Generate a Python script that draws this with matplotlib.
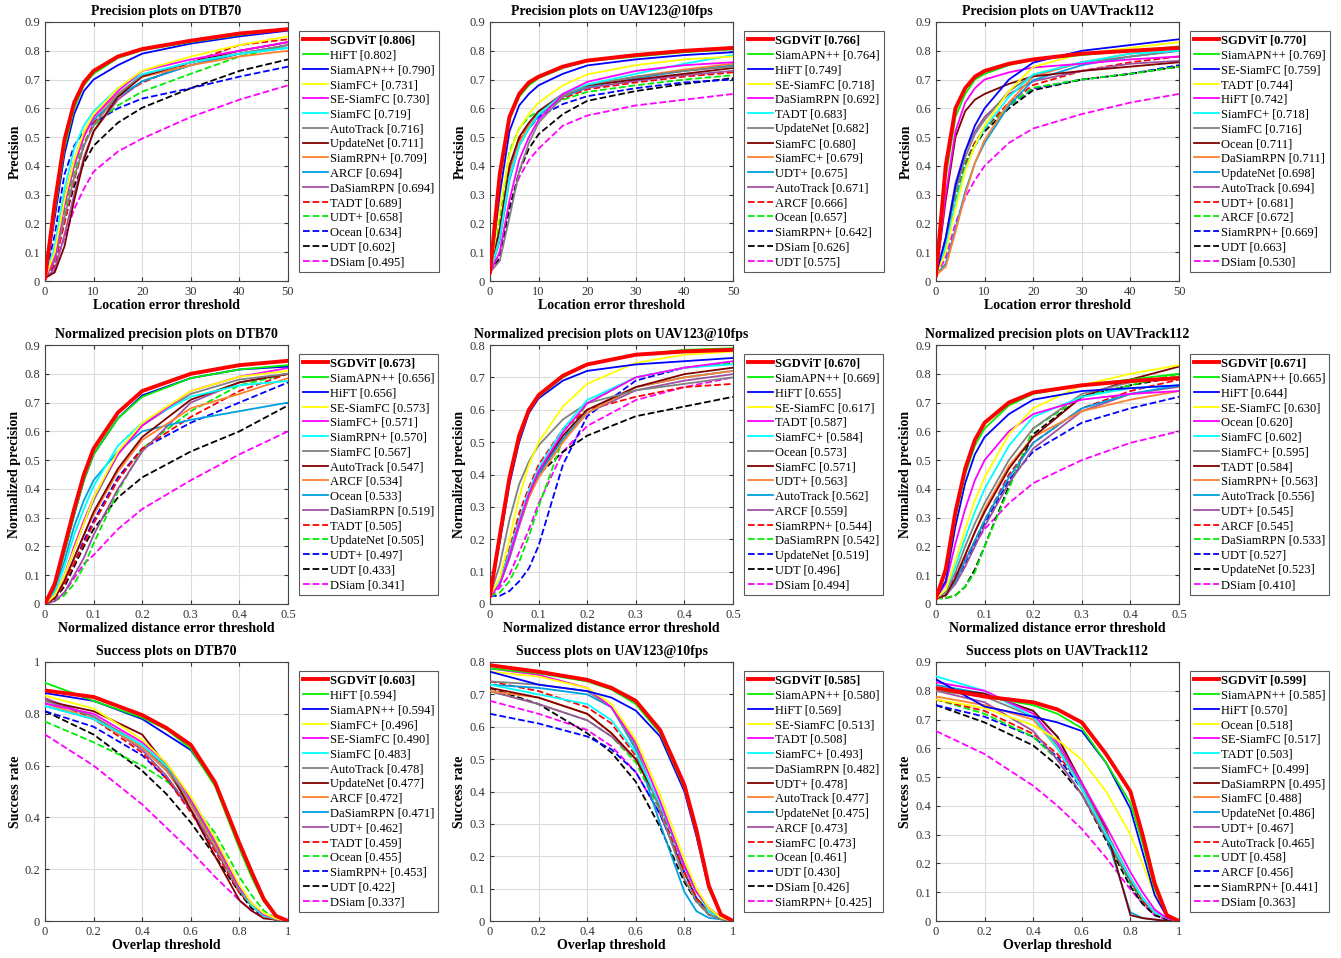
import numpy as np
import matplotlib
matplotlib.use("Agg")
import matplotlib.pyplot as plt
from matplotlib.ticker import FuncFormatter

plt.rcParams['font.family'] = ['Liberation Serif', 'DejaVu Serif']
plt.rcParams['font.size'] = 9

# line styles by rank in each legend (same for all panels)
colors = ['#ff0000', '#00ee00', '#0000ff', '#ffff00', '#ff00ff', '#00ffff', '#808080',
          '#800000', '#ff8030', '#00a0e0', '#a050a0', '#ff0000', '#00ee00', '#0000ff',
          '#000000', '#ff00ff']
styles = ['-'] * 11 + ['--'] * 5

# sample thresholds
prec_x = [0, 2, 4, 6, 8, 10, 15, 20, 30, 40, 50]
norm_x = [0, 0.02, 0.04, 0.06, 0.08, 0.1, 0.15, 0.2, 0.3, 0.4, 0.5]
succ_x = [0, 0.2, 0.4, 0.5, 0.6, 0.7, 0.8, 0.85, 0.9, 0.95, 1.0]

# ---------------- Precision DTB70
p_dtb_names = ['SGDViT', 'HiFT', 'SiamAPN++', 'SiamFC+', 'SE-SiamFC', 'SiamFC', 'AutoTrack',
               'UpdateNet', 'SiamRPN+', 'ARCF', 'DaSiamRPN', 'TADT', 'UDT+', 'Ocean', 'UDT', 'DSiam']
p_dtb_scores = [0.806, 0.802, 0.790, 0.731, 0.730, 0.719, 0.716, 0.711, 0.709, 0.694, 0.694,
                0.689, 0.658, 0.634, 0.602, 0.495]
p_dtb_curves = [
    [0.01, 0.27, 0.49, 0.62, 0.69, 0.73, 0.78, 0.806, 0.835, 0.86, 0.875],
    [0.01, 0.24, 0.46, 0.60, 0.68, 0.72, 0.775, 0.802, 0.83, 0.855, 0.875],
    [0.01, 0.22, 0.44, 0.58, 0.66, 0.70, 0.75, 0.79, 0.825, 0.85, 0.87],
    [0.01, 0.10, 0.28, 0.42, 0.52, 0.58, 0.67, 0.731, 0.78, 0.82, 0.85],
    [0.01, 0.08, 0.26, 0.40, 0.50, 0.57, 0.66, 0.730, 0.77, 0.80, 0.83],
    [0.01, 0.12, 0.32, 0.46, 0.54, 0.59, 0.67, 0.719, 0.76, 0.79, 0.81],
    [0.01, 0.07, 0.22, 0.36, 0.47, 0.54, 0.65, 0.716, 0.76, 0.79, 0.82],
    [0.01, 0.03, 0.12, 0.28, 0.42, 0.52, 0.64, 0.711, 0.76, 0.80, 0.83],
    [0.01, 0.10, 0.29, 0.42, 0.51, 0.57, 0.65, 0.709, 0.75, 0.78, 0.80],
    [0.01, 0.09, 0.28, 0.42, 0.51, 0.56, 0.64, 0.694, 0.75, 0.79, 0.81],
    [0.01, 0.04, 0.16, 0.30, 0.43, 0.52, 0.63, 0.694, 0.75, 0.79, 0.82],
    [0.01, 0.06, 0.20, 0.35, 0.47, 0.55, 0.64, 0.689, 0.76, 0.82, 0.84],
    [0.01, 0.08, 0.24, 0.38, 0.48, 0.54, 0.61, 0.658, 0.72, 0.78, 0.82],
    [0.01, 0.16, 0.37, 0.47, 0.52, 0.55, 0.60, 0.634, 0.67, 0.71, 0.745],
    [0.01, 0.06, 0.21, 0.33, 0.41, 0.47, 0.55, 0.602, 0.67, 0.73, 0.77],
    [0.01, 0.05, 0.15, 0.25, 0.32, 0.38, 0.45, 0.495, 0.57, 0.63, 0.68],
]

# ---------------- Precision UAV123@10fps
p_uav123_names = ['SGDViT', 'SiamAPN++', 'HiFT', 'SE-SiamFC', 'DaSiamRPN', 'TADT', 'UpdateNet',
                  'SiamFC', 'SiamFC+', 'UDT+', 'AutoTrack', 'ARCF', 'Ocean', 'SiamRPN+', 'DSiam', 'UDT']
p_uav123_scores = [0.766, 0.764, 0.749, 0.718, 0.692, 0.683, 0.682, 0.680, 0.679, 0.675, 0.671,
                   0.666, 0.657, 0.642, 0.626, 0.575]
p_uav123_curves = [
    [0.03, 0.37, 0.57, 0.65, 0.69, 0.71, 0.745, 0.766, 0.785, 0.80, 0.81],
    [0.03, 0.35, 0.56, 0.64, 0.68, 0.705, 0.74, 0.764, 0.78, 0.795, 0.805],
    [0.03, 0.30, 0.52, 0.61, 0.65, 0.68, 0.72, 0.749, 0.77, 0.785, 0.795],
    [0.03, 0.25, 0.44, 0.53, 0.58, 0.62, 0.68, 0.718, 0.75, 0.77, 0.78],
    [0.03, 0.10, 0.28, 0.42, 0.50, 0.56, 0.65, 0.692, 0.73, 0.75, 0.76],
    [0.03, 0.15, 0.36, 0.47, 0.53, 0.58, 0.65, 0.683, 0.72, 0.755, 0.785],
    [0.03, 0.07, 0.22, 0.38, 0.48, 0.55, 0.64, 0.682, 0.71, 0.73, 0.745],
    [0.03, 0.18, 0.40, 0.50, 0.55, 0.59, 0.65, 0.680, 0.70, 0.72, 0.74],
    [0.03, 0.15, 0.37, 0.48, 0.54, 0.58, 0.645, 0.679, 0.71, 0.735, 0.755],
    [0.03, 0.14, 0.35, 0.47, 0.53, 0.575, 0.64, 0.675, 0.705, 0.73, 0.75],
    [0.03, 0.17, 0.38, 0.48, 0.54, 0.58, 0.64, 0.671, 0.695, 0.715, 0.73],
    [0.03, 0.16, 0.38, 0.49, 0.54, 0.58, 0.635, 0.666, 0.69, 0.71, 0.725],
    [0.03, 0.22, 0.45, 0.53, 0.57, 0.59, 0.63, 0.657, 0.68, 0.70, 0.715],
    [0.03, 0.15, 0.37, 0.48, 0.53, 0.57, 0.615, 0.642, 0.67, 0.69, 0.70],
    [0.03, 0.08, 0.25, 0.38, 0.46, 0.51, 0.58, 0.626, 0.66, 0.685, 0.705],
    [0.03, 0.10, 0.26, 0.36, 0.42, 0.46, 0.54, 0.575, 0.61, 0.63, 0.65],
]

# ---------------- Precision UAVTrack112
p_uavt_names = ['SGDViT', 'SiamAPN++', 'SE-SiamFC', 'TADT', 'HiFT', 'SiamFC+', 'SiamFC', 'Ocean',
                'DaSiamRPN', 'UpdateNet', 'AutoTrack', 'UDT+', 'ARCF', 'SiamRPN+', 'UDT', 'DSiam']
p_uavt_scores = [0.770, 0.769, 0.759, 0.744, 0.742, 0.718, 0.716, 0.711, 0.711, 0.698, 0.694,
                 0.681, 0.672, 0.669, 0.663, 0.530]
p_uavt_curves = [
    [0.02, 0.40, 0.60, 0.67, 0.71, 0.73, 0.755, 0.770, 0.79, 0.80, 0.81],
    [0.02, 0.36, 0.57, 0.65, 0.70, 0.72, 0.75, 0.769, 0.785, 0.80, 0.815],
    [0.02, 0.15, 0.33, 0.45, 0.54, 0.60, 0.70, 0.759, 0.80, 0.82, 0.84],
    [0.02, 0.10, 0.25, 0.38, 0.47, 0.54, 0.66, 0.744, 0.79, 0.81, 0.83],
    [0.02, 0.30, 0.52, 0.62, 0.67, 0.70, 0.725, 0.742, 0.755, 0.77, 0.78],
    [0.02, 0.12, 0.27, 0.39, 0.47, 0.53, 0.64, 0.718, 0.76, 0.79, 0.80],
    [0.02, 0.14, 0.31, 0.43, 0.51, 0.56, 0.66, 0.716, 0.76, 0.78, 0.80],
    [0.02, 0.28, 0.50, 0.59, 0.63, 0.65, 0.685, 0.711, 0.73, 0.745, 0.76],
    [0.02, 0.05, 0.17, 0.30, 0.41, 0.49, 0.62, 0.711, 0.76, 0.79, 0.81],
    [0.02, 0.06, 0.18, 0.31, 0.41, 0.48, 0.61, 0.698, 0.75, 0.78, 0.80],
    [0.02, 0.15, 0.34, 0.45, 0.52, 0.57, 0.65, 0.694, 0.73, 0.755, 0.765],
    [0.02, 0.10, 0.27, 0.40, 0.48, 0.53, 0.62, 0.681, 0.73, 0.76, 0.78],
    [0.02, 0.12, 0.29, 0.41, 0.48, 0.53, 0.61, 0.672, 0.70, 0.72, 0.745],
    [0.02, 0.12, 0.29, 0.41, 0.48, 0.53, 0.61, 0.669, 0.70, 0.72, 0.75],
    [0.02, 0.11, 0.28, 0.40, 0.47, 0.52, 0.60, 0.663, 0.70, 0.72, 0.745],
    [0.02, 0.08, 0.20, 0.29, 0.35, 0.40, 0.48, 0.530, 0.58, 0.62, 0.65],
]

# ---------------- Normalized precision DTB70
n_dtb_names = ['SGDViT', 'SiamAPN++', 'HiFT', 'SE-SiamFC', 'SiamFC+', 'SiamRPN+', 'SiamFC',
               'AutoTrack', 'ARCF', 'Ocean', 'DaSiamRPN', 'TADT', 'UpdateNet', 'UDT+', 'UDT', 'DSiam']
n_dtb_scores = [0.673, 0.656, 0.656, 0.573, 0.571, 0.570, 0.567, 0.547, 0.534, 0.533, 0.519,
                0.505, 0.505, 0.497, 0.433, 0.341]
n_dtb_curves = [
    [0.0, 0.07, 0.20, 0.33, 0.45, 0.54, 0.665, 0.74, 0.80, 0.83, 0.845],
    [0.0, 0.06, 0.18, 0.31, 0.43, 0.52, 0.645, 0.72, 0.785, 0.815, 0.83],
    [0.0, 0.06, 0.18, 0.31, 0.43, 0.52, 0.645, 0.725, 0.785, 0.815, 0.825],
    [0.0, 0.03, 0.10, 0.19, 0.28, 0.37, 0.53, 0.63, 0.74, 0.79, 0.81],
    [0.0, 0.03, 0.10, 0.20, 0.29, 0.37, 0.52, 0.62, 0.74, 0.79, 0.82],
    [0.0, 0.04, 0.13, 0.24, 0.33, 0.41, 0.55, 0.63, 0.72, 0.76, 0.775],
    [0.0, 0.03, 0.10, 0.19, 0.28, 0.36, 0.52, 0.62, 0.73, 0.78, 0.80],
    [0.0, 0.02, 0.08, 0.16, 0.24, 0.32, 0.47, 0.58, 0.71, 0.77, 0.80],
    [0.0, 0.02, 0.08, 0.16, 0.24, 0.31, 0.46, 0.57, 0.68, 0.73, 0.785],
    [0.0, 0.05, 0.15, 0.27, 0.36, 0.43, 0.53, 0.60, 0.64, 0.67, 0.70],
    [0.0, 0.01, 0.04, 0.10, 0.16, 0.24, 0.40, 0.53, 0.70, 0.77, 0.80],
    [0.0, 0.02, 0.07, 0.14, 0.21, 0.28, 0.43, 0.54, 0.65, 0.74, 0.80],
    [0.0, 0.01, 0.03, 0.07, 0.13, 0.21, 0.39, 0.54, 0.67, 0.76, 0.80],
    [0.0, 0.02, 0.07, 0.14, 0.22, 0.29, 0.44, 0.54, 0.63, 0.70, 0.77],
    [0.0, 0.02, 0.06, 0.13, 0.20, 0.26, 0.37, 0.44, 0.53, 0.60, 0.69],
    [0.0, 0.01, 0.04, 0.09, 0.14, 0.17, 0.26, 0.33, 0.43, 0.52, 0.60],
]

# ---------------- Normalized precision UAV123@10fps
n_uav123_names = ['SGDViT', 'SiamAPN++', 'HiFT', 'SE-SiamFC', 'TADT', 'SiamFC+', 'Ocean', 'SiamFC',
                  'UDT+', 'AutoTrack', 'ARCF', 'SiamRPN+', 'DaSiamRPN', 'UpdateNet', 'UDT', 'DSiam']
n_uav123_scores = [0.670, 0.669, 0.655, 0.617, 0.587, 0.584, 0.573, 0.571, 0.563, 0.562, 0.559,
                   0.544, 0.542, 0.519, 0.496, 0.494]
n_uav123_curves = [
    [0.025, 0.21, 0.39, 0.52, 0.60, 0.645, 0.705, 0.74, 0.77, 0.78, 0.785],
    [0.025, 0.20, 0.38, 0.51, 0.595, 0.64, 0.70, 0.74, 0.77, 0.785, 0.79],
    [0.025, 0.19, 0.37, 0.50, 0.59, 0.635, 0.69, 0.72, 0.74, 0.75, 0.76],
    [0.025, 0.08, 0.20, 0.33, 0.43, 0.50, 0.61, 0.68, 0.745, 0.77, 0.78],
    [0.025, 0.06, 0.15, 0.25, 0.34, 0.41, 0.53, 0.62, 0.70, 0.73, 0.75],
    [0.025, 0.07, 0.16, 0.26, 0.35, 0.42, 0.54, 0.63, 0.70, 0.73, 0.74],
    [0.025, 0.12, 0.26, 0.37, 0.44, 0.49, 0.57, 0.62, 0.66, 0.68, 0.70],
    [0.025, 0.07, 0.16, 0.26, 0.34, 0.41, 0.52, 0.60, 0.67, 0.71, 0.73],
    [0.025, 0.07, 0.16, 0.25, 0.33, 0.39, 0.50, 0.59, 0.67, 0.70, 0.72],
    [0.025, 0.06, 0.15, 0.25, 0.33, 0.40, 0.51, 0.59, 0.67, 0.70, 0.72],
    [0.025, 0.06, 0.14, 0.24, 0.33, 0.40, 0.51, 0.59, 0.66, 0.69, 0.71],
    [0.025, 0.07, 0.17, 0.28, 0.36, 0.43, 0.54, 0.60, 0.64, 0.67, 0.68],
    [0.025, 0.035, 0.07, 0.13, 0.21, 0.30, 0.51, 0.62, 0.70, 0.73, 0.745],
    [0.025, 0.025, 0.04, 0.07, 0.11, 0.18, 0.43, 0.58, 0.69, 0.73, 0.745],
    [0.025, 0.07, 0.16, 0.26, 0.34, 0.40, 0.47, 0.52, 0.58, 0.61, 0.64],
    [0.025, 0.05, 0.09, 0.16, 0.23, 0.31, 0.47, 0.55, 0.63, 0.67, 0.70],
]

# ---------------- Normalized precision UAVTrack112
n_uavt_names = ['SGDViT', 'SiamAPN++', 'HiFT', 'SE-SiamFC', 'Ocean', 'SiamFC', 'SiamFC+', 'TADT',
                'SiamRPN+', 'AutoTrack', 'UDT+', 'ARCF', 'DaSiamRPN', 'UDT', 'UpdateNet', 'DSiam']
n_uavt_scores = [0.671, 0.665, 0.644, 0.630, 0.620, 0.602, 0.595, 0.584, 0.563, 0.556, 0.545,
                 0.545, 0.533, 0.527, 0.523, 0.410]
n_uavt_curves = [
    [0.02, 0.12, 0.32, 0.47, 0.57, 0.63, 0.70, 0.735, 0.76, 0.775, 0.785],
    [0.02, 0.11, 0.30, 0.45, 0.55, 0.61, 0.69, 0.73, 0.76, 0.78, 0.80],
    [0.02, 0.08, 0.27, 0.42, 0.52, 0.58, 0.66, 0.71, 0.74, 0.75, 0.76],
    [0.02, 0.05, 0.15, 0.26, 0.36, 0.44, 0.59, 0.68, 0.76, 0.80, 0.83],
    [0.02, 0.07, 0.21, 0.33, 0.43, 0.50, 0.60, 0.66, 0.71, 0.73, 0.74],
    [0.02, 0.05, 0.13, 0.23, 0.32, 0.40, 0.55, 0.65, 0.72, 0.75, 0.76],
    [0.02, 0.04, 0.11, 0.20, 0.28, 0.35, 0.50, 0.61, 0.73, 0.77, 0.79],
    [0.02, 0.03, 0.09, 0.17, 0.25, 0.32, 0.47, 0.58, 0.72, 0.78, 0.825],
    [0.02, 0.03, 0.09, 0.17, 0.25, 0.33, 0.48, 0.58, 0.67, 0.71, 0.74],
    [0.02, 0.03, 0.08, 0.15, 0.22, 0.29, 0.44, 0.56, 0.68, 0.73, 0.76],
    [0.02, 0.03, 0.07, 0.13, 0.20, 0.27, 0.42, 0.54, 0.67, 0.73, 0.755],
    [0.02, 0.03, 0.08, 0.15, 0.22, 0.29, 0.45, 0.56, 0.68, 0.74, 0.78],
    [0.02, 0.02, 0.03, 0.06, 0.11, 0.20, 0.40, 0.61, 0.72, 0.76, 0.80],
    [0.02, 0.03, 0.08, 0.14, 0.21, 0.28, 0.43, 0.53, 0.63, 0.68, 0.72],
    [0.02, 0.02, 0.03, 0.06, 0.12, 0.20, 0.41, 0.59, 0.72, 0.76, 0.79],
    [0.02, 0.04, 0.10, 0.16, 0.21, 0.26, 0.35, 0.42, 0.50, 0.56, 0.60],
]

# ---------------- Success DTB70
s_dtb_names = ['SGDViT', 'HiFT', 'SiamAPN++', 'SiamFC+', 'SE-SiamFC', 'SiamFC', 'AutoTrack',
               'UpdateNet', 'ARCF', 'DaSiamRPN', 'UDT+', 'TADT', 'Ocean', 'SiamRPN+', 'UDT', 'DSiam']
s_dtb_scores = [0.603, 0.594, 0.594, 0.496, 0.490, 0.483, 0.478, 0.477, 0.472, 0.471, 0.462,
                0.459, 0.455, 0.453, 0.422, 0.337]
s_dtb_curves = [
    [0.89, 0.865, 0.795, 0.745, 0.68, 0.535, 0.30, 0.19, 0.085, 0.02, 0.0],
    [0.92, 0.85, 0.785, 0.74, 0.665, 0.52, 0.28, 0.17, 0.075, 0.02, 0.0],
    [0.88, 0.85, 0.78, 0.72, 0.66, 0.53, 0.30, 0.19, 0.09, 0.02, 0.0],
    [0.87, 0.82, 0.70, 0.61, 0.48, 0.32, 0.14, 0.07, 0.03, 0.01, 0.0],
    [0.84, 0.80, 0.69, 0.61, 0.47, 0.31, 0.13, 0.07, 0.025, 0.01, 0.0],
    [0.83, 0.78, 0.68, 0.60, 0.48, 0.32, 0.13, 0.06, 0.02, 0.01, 0.0],
    [0.85, 0.79, 0.68, 0.59, 0.46, 0.30, 0.12, 0.06, 0.02, 0.005, 0.0],
    [0.85, 0.81, 0.72, 0.60, 0.43, 0.25, 0.08, 0.04, 0.01, 0.005, 0.0],
    [0.84, 0.78, 0.67, 0.58, 0.45, 0.29, 0.12, 0.06, 0.02, 0.01, 0.0],
    [0.83, 0.78, 0.67, 0.58, 0.45, 0.29, 0.12, 0.06, 0.02, 0.01, 0.0],
    [0.86, 0.79, 0.66, 0.56, 0.43, 0.28, 0.12, 0.06, 0.02, 0.005, 0.0],
    [0.86, 0.78, 0.65, 0.55, 0.42, 0.27, 0.11, 0.06, 0.02, 0.005, 0.0],
    [0.77, 0.69, 0.60, 0.54, 0.46, 0.34, 0.17, 0.10, 0.04, 0.01, 0.0],
    [0.81, 0.75, 0.64, 0.55, 0.43, 0.28, 0.12, 0.06, 0.02, 0.005, 0.0],
    [0.81, 0.72, 0.58, 0.49, 0.38, 0.25, 0.11, 0.05, 0.02, 0.005, 0.0],
    [0.72, 0.60, 0.45, 0.36, 0.27, 0.17, 0.08, 0.04, 0.02, 0.005, 0.0],
]

# ---------------- Success UAV123@10fps
s_uav123_names = ['SGDViT', 'SiamAPN++', 'HiFT', 'SE-SiamFC', 'TADT', 'SiamFC+', 'DaSiamRPN',
                  'UDT+', 'AutoTrack', 'UpdateNet', 'ARCF', 'SiamFC', 'Ocean', 'UDT', 'DSiam', 'SiamRPN+']
s_uav123_scores = [0.585, 0.580, 0.569, 0.513, 0.508, 0.493, 0.482, 0.478, 0.477, 0.475, 0.473,
                   0.473, 0.461, 0.430, 0.426, 0.425]
s_uav123_curves = [
    [0.79, 0.77, 0.745, 0.72, 0.68, 0.59, 0.42, 0.28, 0.11, 0.02, 0.0],
    [0.78, 0.765, 0.74, 0.715, 0.67, 0.58, 0.41, 0.27, 0.10, 0.02, 0.0],
    [0.77, 0.73, 0.71, 0.69, 0.65, 0.57, 0.40, 0.26, 0.10, 0.02, 0.0],
    [0.77, 0.755, 0.72, 0.67, 0.56, 0.39, 0.19, 0.10, 0.04, 0.01, 0.0],
    [0.78, 0.76, 0.72, 0.66, 0.55, 0.37, 0.17, 0.09, 0.04, 0.01, 0.0],
    [0.73, 0.70, 0.67, 0.62, 0.52, 0.36, 0.17, 0.09, 0.03, 0.01, 0.0],
    [0.74, 0.73, 0.71, 0.66, 0.54, 0.34, 0.13, 0.06, 0.02, 0.005, 0.0],
    [0.72, 0.69, 0.64, 0.58, 0.50, 0.36, 0.17, 0.09, 0.04, 0.01, 0.0],
    [0.71, 0.69, 0.64, 0.58, 0.50, 0.36, 0.17, 0.09, 0.04, 0.01, 0.0],
    [0.73, 0.72, 0.70, 0.66, 0.53, 0.30, 0.09, 0.03, 0.01, 0.005, 0.0],
    [0.71, 0.67, 0.62, 0.57, 0.50, 0.36, 0.17, 0.09, 0.04, 0.01, 0.0],
    [0.74, 0.71, 0.66, 0.61, 0.51, 0.35, 0.15, 0.07, 0.03, 0.01, 0.0],
    [0.71, 0.67, 0.62, 0.57, 0.49, 0.34, 0.15, 0.07, 0.03, 0.01, 0.0],
    [0.64, 0.61, 0.57, 0.53, 0.46, 0.33, 0.15, 0.07, 0.03, 0.01, 0.0],
    [0.72, 0.67, 0.58, 0.52, 0.43, 0.29, 0.12, 0.06, 0.02, 0.005, 0.0],
    [0.68, 0.64, 0.59, 0.54, 0.46, 0.33, 0.15, 0.07, 0.03, 0.01, 0.0],
]

# ---------------- Success UAVTrack112
s_uavt_names = ['SGDViT', 'SiamAPN++', 'HiFT', 'Ocean', 'SE-SiamFC', 'TADT', 'SiamFC+', 'DaSiamRPN',
                'SiamFC', 'UpdateNet', 'UDT+', 'AutoTrack', 'UDT', 'ARCF', 'SiamRPN+', 'DSiam']
s_uavt_scores = [0.599, 0.585, 0.570, 0.518, 0.517, 0.503, 0.499, 0.495, 0.488, 0.486, 0.467,
                 0.465, 0.458, 0.456, 0.441, 0.363]
s_uavt_curves = [
    [0.81, 0.78, 0.76, 0.735, 0.69, 0.58, 0.45, 0.30, 0.13, 0.02, 0.0],
    [0.81, 0.78, 0.75, 0.72, 0.67, 0.55, 0.41, 0.27, 0.11, 0.02, 0.0],
    [0.84, 0.745, 0.71, 0.69, 0.66, 0.55, 0.39, 0.24, 0.09, 0.015, 0.0],
    [0.77, 0.74, 0.68, 0.63, 0.56, 0.45, 0.30, 0.20, 0.09, 0.02, 0.0],
    [0.83, 0.80, 0.72, 0.62, 0.48, 0.33, 0.17, 0.10, 0.04, 0.01, 0.0],
    [0.85, 0.80, 0.71, 0.60, 0.46, 0.30, 0.15, 0.08, 0.03, 0.01, 0.0],
    [0.80, 0.78, 0.71, 0.61, 0.47, 0.31, 0.15, 0.08, 0.03, 0.01, 0.0],
    [0.81, 0.79, 0.73, 0.64, 0.48, 0.32, 0.02, 0.01, 0.005, 0.0, 0.0],
    [0.78, 0.75, 0.70, 0.60, 0.46, 0.30, 0.15, 0.08, 0.03, 0.01, 0.0],
    [0.82, 0.79, 0.73, 0.64, 0.47, 0.30, 0.03, 0.01, 0.005, 0.0, 0.0],
    [0.80, 0.76, 0.66, 0.56, 0.44, 0.29, 0.14, 0.08, 0.03, 0.01, 0.0],
    [0.77, 0.73, 0.65, 0.58, 0.47, 0.31, 0.14, 0.07, 0.03, 0.01, 0.0],
    [0.77, 0.72, 0.64, 0.56, 0.44, 0.29, 0.13, 0.07, 0.03, 0.01, 0.0],
    [0.75, 0.71, 0.64, 0.57, 0.46, 0.30, 0.13, 0.07, 0.03, 0.01, 0.0],
    [0.75, 0.69, 0.61, 0.54, 0.44, 0.28, 0.12, 0.06, 0.02, 0.005, 0.0],
    [0.66, 0.58, 0.47, 0.40, 0.32, 0.22, 0.11, 0.06, 0.02, 0.005, 0.0],
]

panels = [
    ('Precision plots on DTB70', prec_x, p_dtb_names, p_dtb_scores, p_dtb_curves, 'prec', 0.9),
    ('Precision plots on UAV123@10fps', prec_x, p_uav123_names, p_uav123_scores, p_uav123_curves, 'prec', 0.9),
    ('Precision plots on UAVTrack112', prec_x, p_uavt_names, p_uavt_scores, p_uavt_curves, 'prec', 0.9),
    ('Normalized precision plots on DTB70', norm_x, n_dtb_names, n_dtb_scores, n_dtb_curves, 'norm', 0.9),
    ('Normalized precision plots on UAV123@10fps', norm_x, n_uav123_names, n_uav123_scores, n_uav123_curves, 'norm', 0.8),
    ('Normalized precision plots on UAVTrack112', norm_x, n_uavt_names, n_uavt_scores, n_uavt_curves, 'norm', 0.9),
    ('Success plots on DTB70', succ_x, s_dtb_names, s_dtb_scores, s_dtb_curves, 'succ', 1.0),
    ('Success plots on UAV123@10fps', succ_x, s_uav123_names, s_uav123_scores, s_uav123_curves, 'succ', 0.8),
    ('Success plots on UAVTrack112', succ_x, s_uavt_names, s_uavt_scores, s_uavt_curves, 'succ', 0.9),
]

fig = plt.figure(figsize=(13.41, 9.58), dpi=100)
lefts = [45, 490, 936]
tops = [22, 345, 662]
W, H = 1341.0, 958.0
fmt = FuncFormatter(lambda v, p: f"{v:g}")

for i, (title, xs, names, scores, curves, kind, ymax) in enumerate(panels):
    r, c = divmod(i, 3)
    ax = fig.add_axes([lefts[c] / W, 1 - (tops[r] + 259) / H, 243 / W, 259 / H])
    for k in range(len(names)):
        lw = 2.8 if k == 0 else 1.3
        ax.plot(xs, curves[k], linestyle=styles[k], color=colors[k], lw=lw,
                label=f"{names[k]} [{scores[k]:.3f}]", zorder=20 - k)
    if kind == 'prec':
        ax.set_xlim(0, 50)
        ax.set_xticks(np.arange(0, 51, 10))
        ax.set_xlabel('Location error threshold', fontweight='bold', fontsize=10, labelpad=1)
        ax.set_ylabel('Precision', fontweight='bold', fontsize=10, labelpad=2)
        ax.set_yticks(np.arange(0, ymax + 0.001, 0.1))
    elif kind == 'norm':
        ax.set_xlim(0, 0.5)
        ax.set_xticks(np.arange(0, 0.51, 0.1))
        ax.set_xlabel('Normalized distance error threshold', fontweight='bold', fontsize=10, labelpad=1)
        ax.set_ylabel('Normalized precision', fontweight='bold', fontsize=10, labelpad=2)
        ax.set_yticks(np.arange(0, ymax + 0.001, 0.1))
    else:
        ax.set_xlim(0, 1)
        ax.set_xticks(np.arange(0, 1.01, 0.2))
        ax.set_xlabel('Overlap threshold', fontweight='bold', fontsize=10, labelpad=1)
        ax.set_ylabel('Success rate', fontweight='bold', fontsize=10, labelpad=2)
        step = 0.2 if ymax == 1.0 else 0.1
        ax.set_yticks(np.arange(0, ymax + 0.001, step))
    ax.set_ylim(0, ymax)
    ax.xaxis.set_major_formatter(fmt)
    ax.yaxis.set_major_formatter(fmt)
    ax.set_title(title, fontweight='bold', fontsize=10, pad=5)
    ax.grid(True, color='#dcdcdc', lw=0.8)
    ax.set_axisbelow(True)
    ax.tick_params(direction='in', length=3, labelsize=9, colors='#333333', top=True, right=True,
                   labeltop=False, labelright=False)
    for s in ax.spines.values():
        s.set_color('#444444')
        s.set_linewidth(0.8)
    leg = ax.legend(loc='upper left', bbox_to_anchor=(1.045, 0.965), fontsize=9, frameon=True,
                    fancybox=False, edgecolor='#333333', handlelength=2.0, handletextpad=0.2,
                    labelspacing=0.22, borderpad=0.3, borderaxespad=0)
    leg.get_frame().set_linewidth(0.8)
    leg.get_texts()[0].set_fontweight('bold')

fig.savefig('out.png', dpi=100, facecolor='white')
